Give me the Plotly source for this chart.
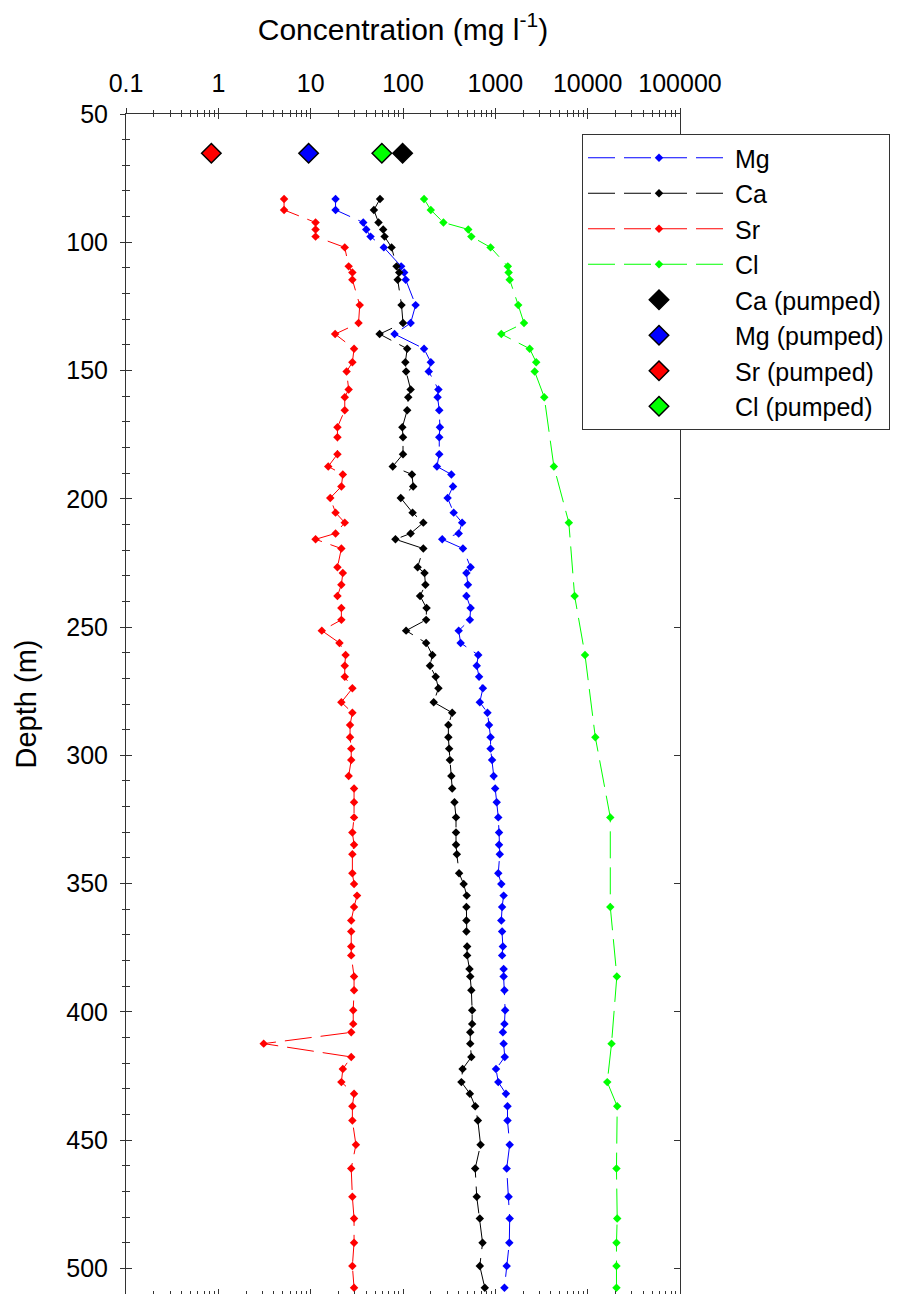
import plotly.graph_objects as go

# ---------------- data ----------------
depth_main = [83.1, 87.4, 92.3, 95.0, 97.8, 102.0, 109.4, 111.8, 114.6, 124.5, 131.5, 135.8, 141.5,
              146.8, 150.4, 157.4, 160.4, 165.5, 172.1, 176.0, 182.6, 187.4, 190.5, 195.2, 199.7,
              205.4, 209.3, 213.5, 215.8, 219.4, 226.7, 228.9, 233.5, 237.9, 242.6, 247.2, 251.4,
              256.2, 260.9, 265.1, 269.4, 273.9, 279.3, 283.4, 288.2, 293.0, 297.4, 301.8, 308.1,
              312.9, 318.3, 324.2, 330.1, 334.9, 338.6, 346.0, 350.2, 354.7, 359.1, 364.4, 368.7,
              374.5, 378.0, 383.3, 386.2, 391.6, 399.4, 404.7, 408.0, 412.4, 417.6, 422.3, 427.4,
              431.9, 436.8, 442.4, 451.8, 461.1, 472.1, 480.6, 490.0, 499.1, 507.6]

ca = [56.4, 48.4, 54.3, 61, 63.2, 75.2, 85.1, 91, 87.6, 96.4, 100, 55.8, 111, 106, 108, 121, 114,
      111, 98.4, 100, 100, 77.4, 125, 129, 94.6, 127, 166, 121, 82.8, 166, 144, 171, 175, 153, 180,
      178, 108, 178, 208, 196, 226, 242, 215, 341, 310, 310, 316, 322, 334, 341, 361, 375, 375, 375,
      383, 405, 454, 490, 486, 486, 486, 495, 495, 525, 535, 550, 561, 561, 535, 535, 550, 442, 429,
      530, 605, 647, 692, 605, 629, 679, 727, 679, 769]

mg = [18.6, 18.6, 37.1, 40, 44.5, 62, 95.5, 103, 107, 137, 121, 81, 169, 200, 190, 242, 237, 247,
      251, 247, 247, 233, 334, 348, 304, 354, 437, 401, 266, 446, 540, 486, 505, 486, 540, 530, 401,
      421, 653, 629, 667, 733, 679, 822, 855, 888, 888, 922, 959, 996, 1035, 1076, 1097, 1097, 1117,
      1076, 1161, 1230, 1184, 1161, 1184, 1207, 1184, 1230, 1230, 1255, 1277, 1255, 1207, 1230, 1265,
      1017, 1076, 1302, 1354, 1354, 1431, 1327, 1393, 1431, 1417, 1327, 1255]

depth_sr = [83.1, 87.4, 92.3, 95.0, 97.8, 102.0, 109.4, 111.8, 114.6, 124.5, 131.5, 135.8, 141.5,
            146.8, 150.4, 157.4, 160.4, 165.5, 172.1, 176.0, 182.6, 187.4, 190.5, 195.2, 199.7,
            205.4, 209.3, 213.5, 215.8, 219.4, 226.7, 228.9, 233.5, 237.9, 242.6, 247.2, 251.4,
            256.2, 260.9, 265.1, 269.4, 273.9, 279.3, 283.4, 288.2, 293.0, 297.4, 301.8, 308.1,
            312.9, 318.3, 324.2, 330.1, 334.9, 338.6, 346.0, 350.2, 354.7, 359.1, 364.4, 368.7,
            374.5, 378.0, 386.2, 391.6, 399.4, 404.7, 408.0, 412.4, 417.6, 422.3, 427.4,
            431.9, 436.8, 442.4, 451.8, 461.1, 472.1, 480.6, 490.0, 499.1, 507.6]

sr = [5.15, 5.15, 11.3, 11.3, 11.3, 23.4, 25.8, 28.3, 28.3, 34, 33, 18.4, 29.5, 28.3, 24.5, 25.8,
      23.4, 23.4, 19.5, 19.5, 19.5, 15.5, 22.3, 21.5, 16.3, 18.6, 23.4, 18.6, 11.3, 21.5, 19.5, 22.3,
      21.5, 19.5, 21.5, 21.5, 13.2, 20.5, 23.9, 23.4, 23.4, 28.3, 21.5, 28.3, 26.7, 26.7, 27.5, 27.5,
      25.8, 29.5, 29.5, 29.5, 28.3, 29.5, 28.3, 28.3, 29.5, 31.8, 29.5, 27.5, 27.5, 27.5, 27.5,
      29.5, 29.5, 28.9, 28.9, 27.5, 3.1, 27.5, 22.3, 21.5, 29.5, 28.3, 28.3, 30.9, 27.5, 28.3,
      29.5, 29.5, 28.3, 29.5]

depth_cl = [83.1, 87.4, 92.3, 95.0, 97.8, 102.0, 109.4, 111.8, 114.6, 124.5, 131.5, 135.8, 141.5,
            146.8, 150.4, 160.4, 187.4, 209.3, 237.9, 260.9, 293.0, 324.2, 359.1, 386.2, 412.4,
            427.4, 436.8, 461.1, 480.6, 490.0, 499.1, 507.6]
cl = [169, 200, 274, 509, 550, 888, 1365, 1393, 1431, 1770, 2044, 1161, 2355, 2771, 2668, 3388,
      4304, 6252, 7224, 9360, 12110, 17580, 17580, 20700, 18130, 16300, 20890, 20510, 20890, 20510,
      20510, 20510]

pumped_depth = 65.3
pumped_ca = 99
pumped_mg = 9.5
pumped_sr = 0.84
pumped_cl = 59

x_tickvals = [0.1, 1, 10, 100, 1000, 10000, 100000]
x_ticktext = ["0.1", "1", "10", "100", "1000", "10000", "100000"]
y_tickvals = [50, 100, 150, 200, 250, 300, 350, 400, 450, 500]

# ---------------- figure ----------------
FONT = "Liberation Sans, Arial, sans-serif"
AX = "#333333"
DASH = "27px,9px"
x_minor = [k * 10.0 ** e for e in range(-1, 5) for k in range(2, 10)]
y_minor = list(range(50, 511, 10))

fig = go.Figure()


def profile(name, x, y, color):
    return go.Scatter(x=x, y=y, name=name, mode="lines+markers",
                      line=dict(color=color, width=1, dash=DASH),
                      marker=dict(symbol="diamond", size=6.5, color=color))


def pumped(name, val, color):
    return go.Scatter(x=[val], y=[pumped_depth], name=name, mode="markers",
                      marker=dict(symbol="diamond", size=15, color=color,
                                  line=dict(color="black", width=1.5)))


fig.add_trace(profile("Mg", mg, depth_main, "#0000ff"))
fig.add_trace(profile("Ca", ca, depth_main, "#000000"))
fig.add_trace(profile("Sr", sr, depth_sr, "#ff0000"))
fig.add_trace(profile("Cl", cl, depth_cl, "#00ff00"))
fig.add_trace(pumped("Ca (pumped)", pumped_ca, "#000000"))
fig.add_trace(pumped("Mg (pumped)", pumped_mg, "#0000ff"))
fig.add_trace(pumped("Sr (pumped)", pumped_sr, "#ff0000"))
fig.add_trace(pumped("Cl (pumped)", pumped_cl, "#00ff00"))

# empty helper traces so the overlay tick axes are drawn
for xa, ya in (("x2", "y"), ("x", "y2"), ("x", "y3")):
    fig.add_trace(go.Scatter(x=[None], y=[None], xaxis=xa, yaxis=ya, showlegend=False,
                             hoverinfo="skip"))

# page body adds an 8px offset, so the figure is 8px smaller than the window
fig.update_layout(
    width=895, height=1286,
    margin=dict(l=118, r=223, t=106, b=0),
    paper_bgcolor="white", plot_bgcolor="white",
    font=dict(family=FONT, color="black"),
    showlegend=True,
    legend=dict(x=(574 - 118) / 554, y=1 - (126 - 106) / 1180, xanchor="left", yanchor="top",
                font=dict(size=25, family=FONT), bordercolor=AX, borderwidth=1,
                bgcolor="white", itemwidth=142, traceorder="normal",
                entrywidth=340, entrywidthmode="pixels"),
    xaxis=dict(type="log", range=[-1, 5], side="top", anchor="y",
               tickmode="array", tickvals=x_tickvals, ticktext=x_ticktext,
               ticks="outside", ticklen=5, tickcolor=AX, tickwidth=1,
               minor=dict(tickmode="array", tickvals=x_minor, ticks="outside", ticklen=3,
                          tickcolor=AX, tickwidth=1, showgrid=False),
               showline=True, linecolor=AX, linewidth=1, mirror=True,
               showgrid=False, zeroline=False,
               tickfont=dict(size=25), ticklabelstandoff=6,
               title=dict(text="Concentration (mg l<sup>-1</sup>)", font=dict(size=30),
                          standoff=25)),
    xaxis2=dict(type="log", range=[-1, 5], side="top", anchor="y", overlaying="x",
                tickmode="array", tickvals=x_tickvals, showticklabels=False,
                ticks="inside", ticklen=5, tickcolor=AX, tickwidth=1,
                minor=dict(tickmode="array", tickvals=x_minor, ticks="inside", ticklen=3,
                           tickcolor=AX, tickwidth=1, showgrid=False),
                mirror="allticks", showline=False, showgrid=False, zeroline=False),
    yaxis=dict(range=[510, 50], anchor="x", side="left",
               tickmode="array", tickvals=y_tickvals,
               ticks="outside", ticklen=5, tickcolor=AX, tickwidth=1,
               minor=dict(tickmode="array", tickvals=y_minor, ticks="outside", ticklen=3,
                          tickcolor=AX, tickwidth=1, showgrid=False),
               showline=True, linecolor=AX, linewidth=1, mirror=True,
               showgrid=False, zeroline=False,
               tickfont=dict(size=25), ticklabelstandoff=7,
               title=dict(text="Depth (m)", font=dict(size=29), standoff=21)),
    yaxis2=dict(range=[510, 50], anchor="x", side="left", overlaying="y",
                tickmode="array", tickvals=y_tickvals, showticklabels=False,
                ticks="inside", ticklen=6, tickcolor=AX, tickwidth=1,
                minor=dict(tickmode="array", tickvals=y_minor, ticks="inside", ticklen=4,
                           tickcolor=AX, tickwidth=1, showgrid=False),
                showline=False, showgrid=False, zeroline=False),
    yaxis3=dict(range=[510, 50], anchor="x", side="right", overlaying="y",
                tickmode="array", tickvals=y_tickvals, showticklabels=False,
                ticks="inside", ticklen=6, tickcolor=AX, tickwidth=1,
                showline=False, showgrid=False, zeroline=False),
)

fig.write_html("out.html")
